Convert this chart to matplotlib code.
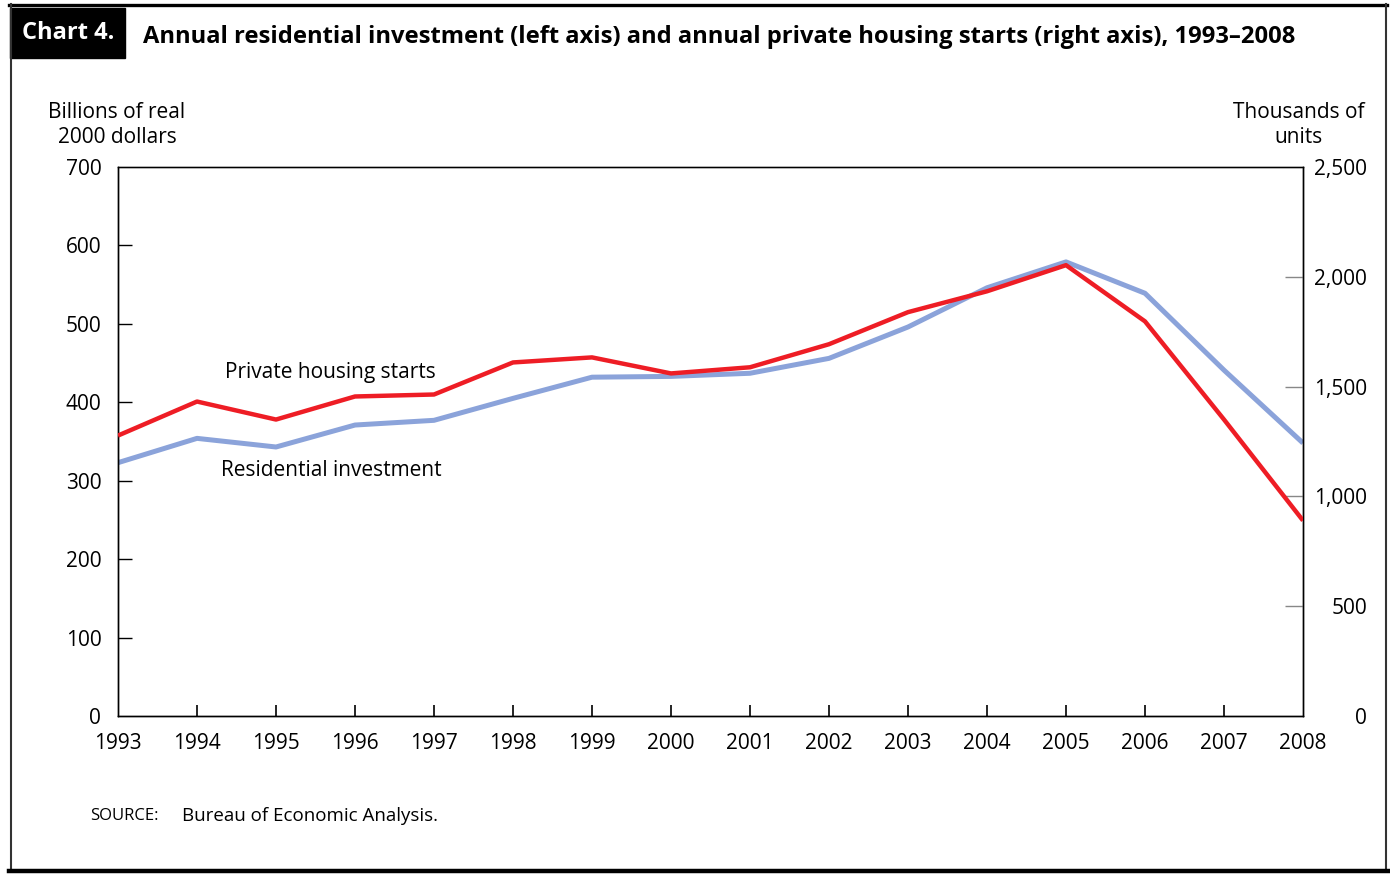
import matplotlib
matplotlib.use('Agg')
import matplotlib.pyplot as plt
from matplotlib.lines import Line2D
from matplotlib.patches import Rectangle
from matplotlib.ticker import FuncFormatter

plt.rcParams['font.family'] = ['Open Sans', 'DejaVu Sans']

# data
years = list(range(1993, 2009))
# residential investment, billions of real 2000 dollars (left axis)
res_invest = [323, 354, 343, 371, 377, 405, 432, 433, 437, 456, 496, 546, 579, 539, 441, 348]
# private housing starts, thousands of units (right axis)
housing_starts = [1277, 1432, 1350, 1455, 1464, 1610, 1633, 1560, 1588, 1693, 1839, 1934, 2053, 1797, 1350, 890]

left_ticks = [0, 100, 200, 300, 400, 500, 600, 700]
right_ticks = [0, 500, 1000, 1500, 2000, 2500]

W, H = 1390, 875
fig = plt.figure(figsize=(W / 100, H / 100), dpi=100)

def fx(px):
    return px / W

def fy(py):
    return 1 - py / H

ax = fig.add_axes([fx(118), fy(716), fx(1303) - fx(118), fy(167) - fy(716)])
ax2 = ax.twinx()

blue = '#8BA3DA'
red = '#EE1D25'

ax.plot(years, res_invest, color=blue, lw=3.6, solid_capstyle='butt', zorder=2)
ax2.plot(years, housing_starts, color=red, lw=3.2, solid_capstyle='butt', zorder=3)

ax.set_xlim(1993, 2008)
ax.set_ylim(0, 700)
ax2.set_ylim(0, 2500)

ax.set_xticks(years)
ax.set_yticks(left_ticks)
ax2.set_yticks(right_ticks)
ax2.yaxis.set_major_formatter(FuncFormatter(lambda v, p: f'{int(v):,}'))

for a in (ax, ax2):
    for s in a.spines.values():
        s.set_linewidth(1.0)
        s.set_color('black')
ax.spines['top'].set_color('#555555')

ax.tick_params(axis='x', direction='in', length=8, width=1.2, color='black',
               labelsize=15, pad=12)
ax.tick_params(axis='y', direction='in', length=10, width=1.0, color='black',
               labelsize=15, pad=12)
ax2.tick_params(axis='y', direction='in', length=13, width=1.0, color='#888888',
                labelsize=15, pad=46)
for lab in ax2.get_yticklabels():
    lab.set_ha('right')

# no tick marks on the corners
ax.xaxis.get_major_ticks()[0].tick1line.set_visible(False)
ax.xaxis.get_major_ticks()[-1].tick1line.set_visible(False)
ax.yaxis.get_major_ticks()[0].tick1line.set_visible(False)
ax.yaxis.get_major_ticks()[-1].tick1line.set_visible(False)
ax2.yaxis.get_major_ticks()[0].tick2line.set_visible(False)
ax2.yaxis.get_major_ticks()[-1].tick2line.set_visible(False)

# series labels
ax.text(1994.35, 438, 'Private housing starts', fontsize=15, ha='left', va='center')
ax.text(1994.3, 313, 'Residential investment', fontsize=15, ha='left', va='center')

# axis unit labels
fig.text(fx(117), fy(125), 'Billions of real\n2000 dollars', fontsize=15,
         ha='center', va='center', multialignment='center', linespacing=1.3)
fig.text(fx(1299), fy(125), 'Thousands of\nunits', fontsize=15,
         ha='center', va='center', multialignment='center', linespacing=1.3)

# title block
fig.patches.append(Rectangle((fx(10), fy(58)), fx(125) - fx(10), fy(8) - fy(58),
                             transform=fig.transFigure, color='black'))
fig.text(fx(68), fy(33), 'Chart 4.', fontsize=17, fontweight='bold', color='white',
         ha='center', va='center')
fig.text(fx(143), fy(37),
         'Annual residential investment (left axis) and annual private housing starts (right axis), 1993\u20132008',
         fontsize=17.1, fontweight='bold', ha='left', va='center')

# source
fig.text(fx(90), fy(816), 'SOURCE:', fontsize=12, ha='left', va='center')
fig.text(fx(182), fy(816), 'Bureau of Economic Analysis.', fontsize=13.5, ha='left', va='center')

# outer frame
fig.add_artist(Line2D([fx(9), fx(1387)], [fy(4.5), fy(4.5)], color='black', lw=2.4,
                      transform=fig.transFigure))
fig.add_artist(Line2D([fx(10.5), fx(10.5)], [fy(4), fy(871)], color='#333333', lw=1.5,
                      transform=fig.transFigure))
fig.add_artist(Line2D([fx(1385.5), fx(1385.5)], [fy(4), fy(871)], color='#333333', lw=1.5,
                      transform=fig.transFigure))
fig.add_artist(Line2D([fx(9), fx(1388)], [fy(871), fy(871)], color='black', lw=3.2,
                      transform=fig.transFigure))

fig.savefig('out.png', dpi=100, facecolor='white')
